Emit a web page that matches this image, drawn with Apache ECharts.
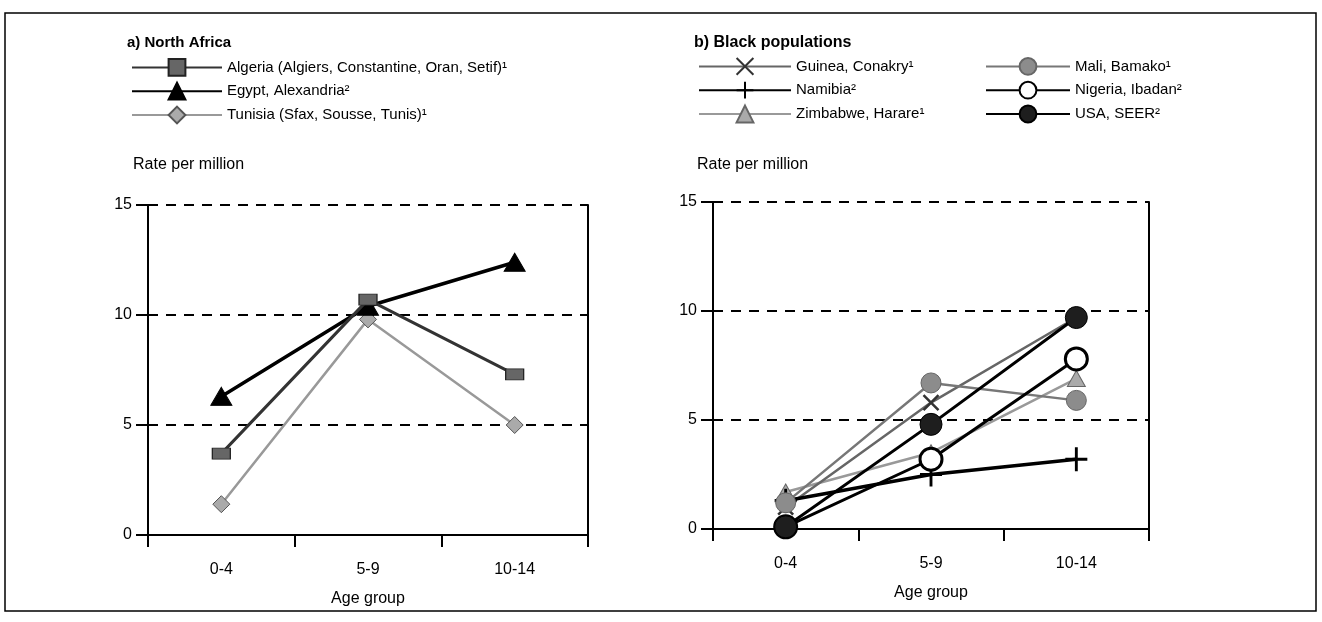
<!DOCTYPE html>
<html>
<head>
<meta charset="utf-8">
<title>Rates by age group</title>
<script src="https://cdn.jsdelivr.net/npm/echarts@6/dist/echarts.min.js"></script>
<style>
  html, body { margin: 0; padding: 0; background: #fff; }
  #chart { width: 1322px; height: 622px; }
</style>
</head>
<body>
<div id="chart"></div>
<script>
const font = "'Liberation Sans', Arial, sans-serif";

// x categories and y ticks
const ageGroups = ["0-4", "5-9", "10-14"];
const yTicks = { min: 0, max: 15, interval: 5 };

// a) North Africa (rate per million)
const algeria = [3.7, 10.7, 7.3];
const egypt = [6.3, 10.4, 12.4];
const tunisia = [1.4, 9.8, 5.0];

// b) Black populations (rate per million)
const guinea = [1.0, 5.8, 9.7];
const namibia = [1.3, 2.5, 3.2];
const zimbabwe = [1.7, 3.5, 6.9];
const mali = [1.2, 6.7, 5.9];
const nigeria = [0.1, 3.2, 7.8];
const usa = [0.1, 4.8, 9.7];

const names = {
    algeria: "Algeria (Algiers, Constantine, Oran, Setif)¹",
    egypt: "Egypt, Alexandria²",
    tunisia: "Tunisia (Sfax, Sousse, Tunis)¹",
    guinea: "Guinea, Conakry¹",
    namibia: "Namibia²",
    zimbabwe: "Zimbabwe, Harare¹",
    mali: "Mali, Bamako¹",
    nigeria: "Nigeria, Ibadan²",
    usa: "USA, SEER²"
};

const X_PATH = "path://M0,0L10,10M10,0L0,10";
const PLUS_PATH = "path://M5,0L5,10M0,5L10,5";

const chart = echarts.init(document.getElementById("chart"));

// main axes for a panel
const makeX = (grid) => ({
    type: "category",
    gridIndex: grid,
    data: ageGroups,
    boundaryGap: true,
    name: "Age group",
    nameLocation: "middle",
    nameGap: 56,
    nameTextStyle: { fontFamily: font, fontSize: 16, color: "#000" },
    axisLine: { lineStyle: { color: "#000", width: 2 } },
    axisTick: { show: true, length: 12, lineStyle: { color: "#000", width: 2 } },
    axisLabel: { fontFamily: font, fontSize: 16, color: "#000", margin: 27 },
    splitLine: { show: false }
});
const makeY = (grid) => ({
    type: "value",
    gridIndex: grid,
    min: yTicks.min,
    max: yTicks.max,
    interval: yTicks.interval,
    axisLine: { show: true, lineStyle: { color: "#000", width: 2 } },
    axisTick: { show: true, length: 12, lineStyle: { color: "#000", width: 2 } },
    axisLabel: { fontFamily: font, fontSize: 16, color: "#000", margin: 16 },
    splitLine: { show: true, lineStyle: { color: "#000", width: 2, type: [10, 8] } }
});
// frame-only axes (top / right edges of the box)
const frameX = (grid) => ({
    type: "category", gridIndex: grid, position: "top", data: ageGroups,
    axisLine: { lineStyle: { color: "#000", width: 2 } },
    axisTick: { show: false }, axisLabel: { show: false }
});
const frameY = (grid) => ({
    type: "value", gridIndex: grid, position: "right",
    min: yTicks.min, max: yTicks.max, interval: yTicks.interval,
    axisLine: { show: true, lineStyle: { color: "#000", width: 2 } },
    axisTick: { show: false }, axisLabel: { show: false }, splitLine: { show: false }
});

const line = (name, data, axis, opts) => ({
    type: "line",
    name: name,
    data: data,
    xAxisIndex: axis,
    yAxisIndex: axis,
    z: opts.z || 2,
    symbol: opts.symbol,
    symbolSize: opts.size,
    showAllSymbol: true,
    lineStyle: { color: opts.line, width: opts.width },
    itemStyle: { color: opts.fill, borderColor: opts.border, borderWidth: opts.bw || 1, opacity: 1 },
    emphasis: { disabled: true }
});

const legendText = { fontFamily: font, fontSize: 15, color: "#000" };
const legendBase = { orient: "vertical", itemHeight: 21, itemGap: 5, padding: 0,
                     textStyle: legendText, selectedMode: false };

const option = {
    animation: false,
    backgroundColor: "#fff",
    title: [
        { text: "a) North Africa", left: 127, top: 35, padding: 0,
          textStyle: { fontFamily: font, fontSize: 15, fontWeight: "bold", color: "#000" } },
        { text: "b) Black populations", left: 694, top: 35, padding: 0,
          textStyle: { fontFamily: font, fontSize: 16, fontWeight: "bold", color: "#000" } },
        { text: "Rate per million", left: 133, top: 157, padding: 0,
          textStyle: { fontFamily: font, fontSize: 16, fontWeight: "normal", color: "#000" } },
        { text: "Rate per million", left: 697, top: 157, padding: 0,
          textStyle: { fontFamily: font, fontSize: 16, fontWeight: "normal", color: "#000" } }
    ],
    legend: [
        Object.assign({ data: [names.algeria, names.egypt, names.tunisia],
          left: 131, top: 58, itemWidth: 90 }, legendBase),
        Object.assign({ data: [names.guinea, names.namibia, names.zimbabwe],
          left: 698, top: 57, itemWidth: 92 }, legendBase),
        Object.assign({ data: [names.mali, names.nigeria, names.usa],
          left: 985, top: 57, itemWidth: 84 }, legendBase)
    ],
    grid: [
        { left: 148, right: 734, top: 205, bottom: 87 },
        { left: 713, right: 173, top: 202, bottom: 93 }
    ],
    xAxis: [makeX(0), frameX(0), makeX(1), frameX(1)],
    yAxis: [makeY(0), frameY(0), makeY(1), frameY(1)],
    series: [
        line(names.algeria, algeria, 0, { symbol: "rect", size: [18, 11], line: "#333", width: 3, fill: "#666", border: "#222", z: 4 }),
        line(names.egypt, egypt, 0, { symbol: "triangle", size: [21, 18], line: "#000", width: 3.5, fill: "#000", border: "#000", z: 3 }),
        line(names.tunisia, tunisia, 0, { symbol: "diamond", size: 17, line: "#999", width: 2.5, fill: "#aaa", border: "#555", z: 2 }),

        line(names.guinea, guinea, 2, { symbol: X_PATH, size: 15, line: "#666", width: 2.5, fill: "#000", border: "#333", bw: 2.5, z: 3 }),
        line(names.namibia, namibia, 2, { symbol: PLUS_PATH, size: [22, 24], line: "#000", width: 3.5, fill: "#000", border: "#000", bw: 3, z: 3 }),
        line(names.zimbabwe, zimbabwe, 2, { symbol: "triangle", size: [18, 16], line: "#999", width: 2.5, fill: "#aaa", border: "#666", z: 2 }),
        line(names.mali, mali, 2, { symbol: "circle", size: 20, line: "#777", width: 2.5, fill: "#8c8c8c", border: "#666", z: 3 }),
        line(names.nigeria, nigeria, 2, { symbol: "circle", size: 22, line: "#000", width: 3, fill: "#fff", border: "#000", bw: 3, z: 4 }),
        line(names.usa, usa, 2, { symbol: "circle", size: 22, line: "#000", width: 3, fill: "#1e1e1e", border: "#000", z: 5 })
    ],
    graphic: [
        { type: "rect", z: 100, silent: true,
          shape: { x: 5, y: 13, width: 1311, height: 598 },
          style: { fill: "none", stroke: "#000", lineWidth: 1.5 } }
    ]
};

chart.setOption(option);
</script>
</body>
</html>
